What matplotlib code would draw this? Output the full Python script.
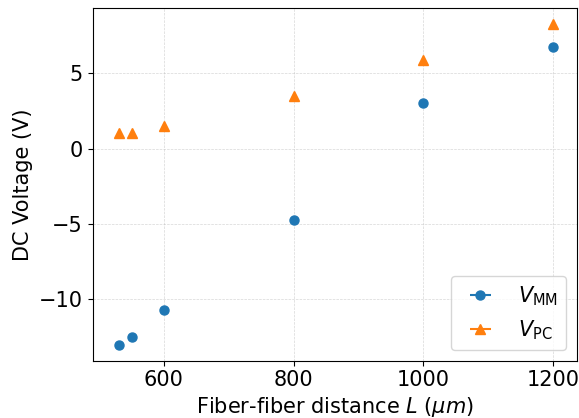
import matplotlib
matplotlib.use('Agg')
import matplotlib.pyplot as plt
import numpy as np

# fiber-fiber distance (um) and measured DC voltages (V)
L = [530, 550, 600, 800, 1000, 1200]
V_MM = [-13.0, -12.5, -10.73, -4.72, 3.03, 6.77]
V_PC = [1.04, 1.04, 1.52, 3.51, 5.89, 8.28]

plt.rcParams['font.size'] = 15

fig, ax = plt.subplots(figsize=(5.79, 4.18), dpi=100)
fig.subplots_adjust(left=0.16, right=0.996, bottom=0.137, top=0.981)

ax.errorbar(L, V_MM, xerr=np.zeros(len(L)), fmt='o', ms=6.5, color='tab:blue', label=r'$V_{\rm MM}$')
ax.errorbar(L, V_PC, xerr=np.zeros(len(L)), fmt='^', ms=6.5, color='tab:orange', label=r'$V_{\rm PC}$')

ax.set_xlabel(r'Fiber-fiber distance $L$ ($\mu m$)', labelpad=3)
ax.set_ylabel('DC Voltage (V)')
ax.set_xlim(490, 1237)
ax.set_xticks([600, 800, 1000, 1200])
ax.set_yticks([-10, -5, 0, 5])
ax.grid(True, linestyle='--', linewidth=0.5, alpha=0.5)
ax.legend(loc='lower right', fontsize=15)

plt.savefig('out.png', dpi=100)
